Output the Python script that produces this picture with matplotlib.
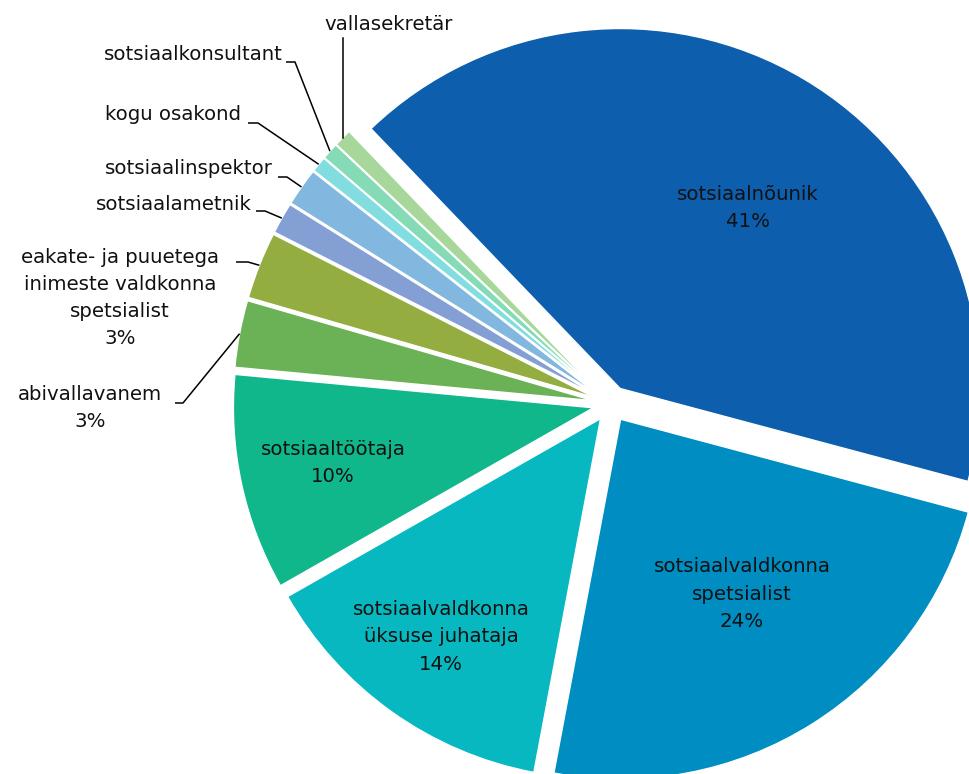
import numpy as np
import matplotlib.pyplot as plt

# Ametikohtade jaotus
labels = ['sotsiaalnõunik', 'sotsiaalvaldkonna\nspetsialist', 'sotsiaalvaldkonna\nüksuse juhataja',
          'sotsiaaltöötaja', 'abivallavanem', 'eakate- ja puuetega\ninimeste valdkonna\nspetsialist',
          'sotsiaalametnik', 'sotsiaalinspektor', 'kogu osakond', 'sotsiaalkonsultant', 'vallasekretär']
shares = [41.3, 23.8, 13.8, 9.7, 3.0, 3.0, 1.4, 1.7, 0.7, 0.75, 0.8]
show_pct = [True, True, True, True, True, True, False, False, False, False, False]
colors = ['#0D5FAD', '#008DC2', '#08B8C0', '#10B78A', '#6BB257', '#93AD40',
          '#849FD4', '#82B7E0', '#82DDE0', '#84DBB6', '#A7D79A']

W, H = 970, 774
cx, cy, R = 611, 404, 360   # pie centre and radius in pixels


def px(x, y):
    # pixel position -> data coords (radius = 1)
    return (x - cx) / R, (cy - y) / R


fig = plt.figure(figsize=(W / 100, H / 100), dpi=100)
ax = fig.add_axes([0, 0, 1, 1])

wedges, _ = ax.pie(shares, colors=colors, startangle=133.8, counterclock=False,
                   explode=[0.05] * len(shares), radius=1,
                   wedgeprops=dict(edgecolor='white', linewidth=1))

ax.set_xlim(-cx / R, (W - cx) / R)
ax.set_ylim(-(H - cy) / R, cy / R)
ax.set_aspect('equal')
ax.axis('off')

total = sum(shares)
texts = []
for lab, v, p in zip(labels, shares, show_pct):
    texts.append(lab + '\n%d%%' % round(v / total * 100) if p else lab)

fs = 14.2
tcol = '#111111'
ls = 1.55

# labels inside the big slices
inside = {0: (748, 208), 1: (742, 594), 2: (441, 637), 3: (333, 463)}
for i, (x, y) in inside.items():
    ax.text(*px(x, y), texts[i], ha='center', va='center', fontsize=fs,
            color=tcol, linespacing=ls, multialignment='center')


def arc_point(w):
    mid = np.deg2rad((w.theta1 + w.theta2) / 2)
    return w.center[0] + w.r * np.cos(mid), w.center[1] + w.r * np.sin(mid)


# outside labels: text position, alignment, leader start (elbow) points
outside = {
    4: dict(pos=(90, 408), ha='center', elbow=[(175, 403), (183, 403)]),
    5: dict(pos=(120, 298), ha='center', elbow=[(236, 262), (248, 262)]),
    6: dict(pos=(252, 205), ha='right', elbow=[(256, 211), (265, 211)]),
    7: dict(pos=(273, 168), ha='right', elbow=[(278, 177), (287, 177)]),
    8: dict(pos=(241, 115), ha='right', elbow=[(248, 123), (258, 123)]),
    9: dict(pos=(283, 55), ha='right', elbow=[(286, 62), (295, 62)]),
}
for i, o in outside.items():
    ax.text(*px(*o['pos']), texts[i], ha=o['ha'], va='center', fontsize=fs,
            color=tcol, linespacing=ls, multialignment='center')
    pts = [px(*e) for e in o['elbow']] + [arc_point(wedges[i])]
    xs, ys = zip(*pts)
    ax.plot(xs, ys, color='black', lw=1.1, solid_capstyle='butt')

# vallasekretär: text above, vertical leader
ax.text(*px(389, 24), texts[10], ha='center', va='center', fontsize=fs, color=tcol)
ax_, ay_ = arc_point(wedges[10])
ax.plot([ax_, ax_], [ay_, px(0, 38)[1]], color='black', lw=1.1)

plt.savefig('out.png', dpi=100)
